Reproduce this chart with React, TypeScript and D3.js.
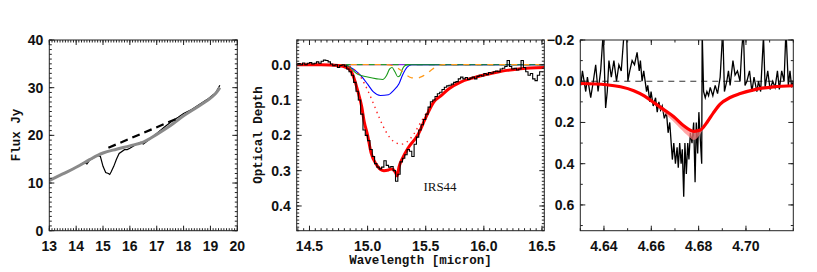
import * as d3 from 'd3';

// ---- panel 1: flux spectrum (micron, Jy) ----
const fluxWave = [13.0, 13.5, 14.0, 14.3, 14.4, 14.5, 14.8, 14.9, 15.0, 15.1, 15.2, 15.25, 15.3, 15.4, 15.5, 15.6, 15.8, 15.9, 16.0, 16.2, 16.4, 16.5, 16.6, 16.8, 17.0, 17.3, 17.6, 17.8, 18.0, 18.3, 18.6, 18.9, 19.1, 19.2, 19.3, 19.35];
const fluxData = [10.5, 11.9, 13.3, 14.3, 14.0, 14.8, 15.8, 15.6, 13.5, 12.2, 12.0, 11.8, 12.3, 13.5, 15.0, 16.2, 17.0, 17.0, 17.3, 18.0, 18.5, 18.2, 18.6, 19.5, 20.4, 21.8, 23.1, 23.8, 24.6, 25.4, 26.5, 27.6, 28.5, 29.0, 30.0, 30.5];
const contWave = [13.0, 13.5, 14.0, 14.5, 14.8, 15.0, 15.5, 16.0, 16.5, 17.0, 17.5, 18.0, 18.5, 19.0, 19.2, 19.35];
const contFlux = [10.5, 11.9, 13.3, 14.9, 15.8, 16.3, 17.1, 17.8, 18.6, 20.2, 22.0, 24.1, 25.9, 27.8, 28.8, 30.0];
const dashWave = [15.2, 17.75];
const dashFlux = [17.4, 23.5];

// ---- panel 2: optical depth, 15 micron band ----
const tauWave = [14.39, 14.41, 14.43, 14.45, 14.47, 14.49, 14.51, 14.53, 14.55, 14.57, 14.59, 14.61, 14.63, 14.65, 14.67, 14.69, 14.71, 14.73, 14.75, 14.77, 14.79, 14.81, 14.83, 14.85, 14.87, 14.89, 14.91, 14.93, 14.95, 14.97, 14.99, 15.01, 15.03, 15.05, 15.07, 15.09, 15.11, 15.13, 15.15, 15.17, 15.19, 15.21, 15.23, 15.25, 15.27, 15.29, 15.31, 15.33, 15.35, 15.37, 15.39, 15.41, 15.43, 15.45, 15.47, 15.49, 15.51, 15.53, 15.55, 15.57, 15.59, 15.61, 15.63, 15.65, 15.67, 15.69, 15.71, 15.73, 15.75, 15.77, 15.79, 15.81, 15.83, 15.85, 15.87, 15.89, 15.91, 15.93, 15.95, 15.97, 15.99, 16.01, 16.03, 16.05, 16.07, 16.09, 16.11, 16.13, 16.15, 16.17, 16.19, 16.21, 16.23, 16.25, 16.27, 16.29, 16.31, 16.33, 16.35, 16.37, 16.39, 16.41, 16.43, 16.45, 16.47, 16.49, 16.51];
const tauData = [0.0, -0.003, 0.0, -0.005, 0.0, -0.004, -0.006, -0.002, -0.004, -0.008, -0.004, -0.01, -0.013, -0.012, -0.008, -0.002, 0.003, 0.0, 0.008, 0.002, 0.0, 0.004, 0.012, 0.02, 0.03, 0.05, 0.075, 0.1, 0.14, 0.185, 0.2, 0.215, 0.24, 0.26, 0.28, 0.29, 0.295, 0.29, 0.272, 0.285, 0.29, 0.288, 0.3, 0.33, 0.31, 0.275, 0.265, 0.255, 0.24, 0.245, 0.26, 0.225, 0.205, 0.185, 0.17, 0.155, 0.14, 0.12, 0.105, 0.1, 0.09, 0.082, 0.078, 0.07, 0.064, 0.06, 0.058, 0.055, 0.05, 0.048, 0.04, 0.035, 0.04, 0.036, 0.042, 0.038, 0.035, 0.04, 0.033, 0.03, 0.032, 0.025, 0.028, 0.022, 0.024, 0.02, 0.018, 0.02, 0.012, 0.01, 0.005, -0.012, 0.005, 0.012, 0.01, 0.015, 0.012, -0.012, 0.008, 0.02, 0.03, 0.025, 0.04, 0.045, 0.03, 0.02, 0.02];
const fitWave = [14.39, 14.6, 14.75, 14.82, 14.86, 14.89, 14.92, 14.95, 14.97, 15.0, 15.03, 15.08, 15.14, 15.18, 15.21, 15.24, 15.255, 15.27, 15.3, 15.35, 15.43, 15.5, 15.57, 15.63, 15.7, 15.8, 15.9, 16.0, 16.1, 16.2, 16.3, 16.4, 16.52];
const fitTau = [0.0, 0.0, 0.002, 0.008, 0.02, 0.045, 0.08, 0.12, 0.16, 0.2, 0.25, 0.285, 0.3, 0.298, 0.295, 0.305, 0.315, 0.29, 0.265, 0.235, 0.2, 0.15, 0.105, 0.088, 0.068, 0.049, 0.038, 0.029, 0.022, 0.016, 0.012, 0.009, 0.008];
const dotWave = [14.8, 14.85, 14.9, 14.95, 15.0, 15.05, 15.1, 15.15, 15.2, 15.25, 15.29, 15.34, 15.4, 15.45, 15.5, 15.55, 15.6];
const dotTau = [0.0, 0.005, 0.018, 0.04, 0.072, 0.11, 0.15, 0.185, 0.21, 0.222, 0.225, 0.218, 0.195, 0.167, 0.14, 0.112, 0.09];
const blueWave = [14.39, 14.8, 14.85, 14.9, 14.94, 15.0, 15.05, 15.11, 15.18, 15.22, 15.27, 15.3, 15.34, 15.38, 16.52];
const blueTau = [0, 0, 0.007, 0.018, 0.03, 0.055, 0.077, 0.087, 0.085, 0.074, 0.054, 0.03, 0.007, 0, 0];
const greenWave = [14.39, 14.8, 14.84, 14.88, 14.92, 15.0, 15.08, 15.13, 15.16, 15.19, 15.21, 15.235, 15.26, 15.28, 15.3, 15.32, 15.35, 16.52];
const greenTau = [0, 0, 0.005, 0.018, 0.028, 0.035, 0.04, 0.042, 0.032, 0.012, 0.008, 0.02, 0.034, 0.03, 0.012, 0.003, 0, 0];
const orangeWave = [14.39, 15.15, 15.22, 15.28, 15.33, 15.38, 15.42, 15.47, 15.52, 15.56, 15.6, 15.65, 16.52];
const orangeTau = [0, 0, 0.003, 0.014, 0.028, 0.037, 0.038, 0.033, 0.022, 0.012, 0.004, 0, 0];

// ---- panel 3: optical depth, 4.67 micron band ----
const coWave = [4.6302, 4.6309, 4.6323, 4.633, 4.6344, 4.6355, 4.6365, 4.6375, 4.6386, 4.6397, 4.6407, 4.6414, 4.6421, 4.6431, 4.6442, 4.6453, 4.6463, 4.6473, 4.6484, 4.6495, 4.6501, 4.6509, 4.6519, 4.6529, 4.654, 4.6549, 4.6554, 4.6561, 4.6568, 4.658, 4.6585, 4.6594, 4.6599, 4.6608, 4.6618, 4.6625, 4.6632, 4.6639, 4.6646, 4.6655, 4.6664, 4.6671, 4.6678, 4.6684, 4.6689, 4.6695, 4.6702, 4.6709, 4.6714, 4.672, 4.6726, 4.6731, 4.6737, 4.6742, 4.6748, 4.6754, 4.6759, 4.6765, 4.6772, 4.6779, 4.6785, 4.679, 4.6796, 4.6801, 4.6807, 4.6813, 4.6815, 4.6821, 4.6828, 4.6835, 4.6842, 4.6849, 4.686, 4.687, 4.688, 4.6891, 4.6902, 4.6909, 4.6919, 4.6926, 4.6933, 4.6945, 4.6954, 4.6964, 4.6975, 4.6982, 4.6989, 4.6996, 4.7004, 4.7015, 4.7025, 4.7034, 4.7046, 4.7053, 4.7062, 4.7074, 4.7081, 4.7092, 4.7102, 4.7113, 4.7123, 4.7133, 4.7141, 4.7151, 4.7161, 4.7169, 4.7179, 4.7186, 4.7193, 4.72];
const coTau = [0.02, -0.05, 0.05, -0.02, 0.08, 0.0, -0.08, 0.05, -0.05, -0.24, 0.13, 0.05, -0.1, -0.02, -0.1, 0.0, -0.08, -0.05, -0.22, -0.26, 0.0, -0.05, -0.1, -0.08, -0.14, -0.05, -0.1, 0.0, -0.05, 0.05, 0.02, 0.1, 0.05, 0.12, 0.08, 0.15, 0.1, 0.14, 0.12, 0.18, 0.15, 0.25, 0.2, 0.3, 0.38, 0.3, 0.4, 0.32, 0.42, 0.3, 0.4, 0.33, 0.56, 0.3, 0.45, 0.3, 0.38, 0.25, 0.3, 0.2, 0.49, 0.2, 0.35, 0.15, 0.28, 0.4, -0.24, 0.05, 0.08, 0.05, 0.07, 0.03, 0.07, 0.02, 0.06, -0.02, -0.25, 0.05, 0.0, -0.05, 0.02, -0.1, -0.03, -0.05, 0.0, -0.15, -0.25, 0.02, 0.0, -0.05, 0.05, -0.02, 0.05, 0.0, 0.05, -0.22, 0.03, -0.05, 0.04, 0.0, 0.03, -0.05, 0.04, -0.05, 0.0, -0.25, 0.02, -0.05, 0.03, 0.0];
const coFitWave = [4.63, 4.641, 4.647, 4.6526, 4.657, 4.661, 4.665, 4.6695, 4.6737, 4.678, 4.6807, 4.6835, 4.6863, 4.6891, 4.6933, 4.6976, 4.7046, 4.7116, 4.72];
const coFitTau = [0.011, 0.017, 0.027, 0.046, 0.071, 0.103, 0.135, 0.172, 0.216, 0.243, 0.237, 0.2, 0.152, 0.111, 0.079, 0.06, 0.038, 0.027, 0.022];
const bandWave = [4.663, 4.667, 4.671, 4.675, 4.678, 4.681, 4.683];
const bandLow = [0.13, 0.17, 0.215, 0.26, 0.285, 0.25, 0.205];

const TICK_FONT = '"Liberation Sans", Arial, sans-serif';
const TITLE_FONT = '"Liberation Mono", "Courier New", monospace';

type Lin = d3.ScaleLinear<number, number>;

function steps(a: number, b: number, s: number) {
  const out: number[] = [];
  const n = Math.round((b - a) / s);
  for (let i = 0; i <= n; i++) out.push(+(a + i * s).toFixed(6));
  return out;
}

function Frame({ x, y, xMaj, xMin, yMaj, yMin, xFmt, yFmt }: {
  x: Lin; y: Lin; xMaj: number[]; xMin: number[]; yMaj: number[]; yMin: number[];
  xFmt: (v: number) => string; yFmt: (v: number) => string;
}) {
  const [x0, x1] = x.range();
  const [y0, y1] = y.range();
  const top = Math.min(y0, y1), bot = Math.max(y0, y1);
  const inX = (v: number) => v >= Math.min(...x.domain()) - 1e-9 && v <= Math.max(...x.domain()) + 1e-9;
  const inY = (v: number) => v >= Math.min(...y.domain()) - 1e-9 && v <= Math.max(...y.domain()) + 1e-9;
  const MJ = 5, MN = 2.5;
  return (
    <g stroke="#222" strokeWidth={1} fill="none">
      <rect x={x0} y={top} width={x1 - x0} height={bot - top} />
      {xMin.filter(inX).map((v, i) => (
        <g key={'xm' + i}>
          <line x1={x(v)} x2={x(v)} y1={bot} y2={bot - MN} />
          <line x1={x(v)} x2={x(v)} y1={top} y2={top + MN} />
        </g>
      ))}
      {xMaj.filter(inX).map((v, i) => (
        <g key={'xM' + i}>
          <line x1={x(v)} x2={x(v)} y1={bot} y2={bot - MJ} />
          <line x1={x(v)} x2={x(v)} y1={top} y2={top + MJ} />
          <text x={x(v)} y={bot + 20} stroke="none" fill="#111" fontFamily={TICK_FONT} fontSize={14} fontWeight="bold" textAnchor="middle">{xFmt(v)}</text>
        </g>
      ))}
      {yMin.filter(inY).map((v, i) => (
        <g key={'ym' + i}>
          <line x1={x0} x2={x0 + MN} y1={y(v)} y2={y(v)} />
          <line x1={x1} x2={x1 - MN} y1={y(v)} y2={y(v)} />
        </g>
      ))}
      {yMaj.filter(inY).map((v, i) => (
        <g key={'yM' + i}>
          <line x1={x0} x2={x0 + MJ} y1={y(v)} y2={y(v)} />
          <line x1={x1} x2={x1 - MJ} y1={y(v)} y2={y(v)} />
          <text x={x0 - 6} y={y(v) + 5} stroke="none" fill="#111" fontFamily={TICK_FONT} fontSize={14} fontWeight="bold" textAnchor="end">{yFmt(v)}</text>
        </g>
      ))}
    </g>
  );
}

export default function App() {
  // panel 1
  const x1 = d3.scaleLinear().domain([13, 20]).range([49.3, 237.3]);
  const y1 = d3.scaleLinear().domain([0, 40]).range([230.7, 40]);
  const l1 = d3.line<number>().x((_, i) => x1(fluxWave[i])).y((d) => y1(d));
  const lc = d3.line<number>().x((_, i) => x1(contWave[i])).y((d) => y1(d)).curve(d3.curveMonotoneX);
  const ld = d3.line<number>().x((_, i) => x1(dashWave[i])).y((d) => y1(d));

  // panel 2
  const x2 = d3.scaleLinear().domain([14.39, 16.52]).range([296.7, 544.3]);
  const y2 = d3.scaleLinear().domain([-0.07, 0.47]).range([40, 230.7]);
  const mk2 = (w: number[], curve: d3.CurveFactory = d3.curveMonotoneX) =>
    d3.line<number>().x((_, i) => x2(w[i])).y((d) => y2(d)).curve(curve);
  const zero2 = [0, 0];
  const zeroW = [14.39, 16.52];

  // panel 3
  const x3 = d3.scaleLinear().domain([4.63, 4.72]).range([580.3, 793.3]);
  const y3 = d3.scaleLinear().domain([-0.2, 0.725]).range([40, 230.7]);
  const l3 = d3.line<number>().x((_, i) => x3(coWave[i])).y((d) => y3(d));
  const l3fit = d3.line<number>().x((_, i) => x3(coFitWave[i])).y((d) => y3(d)).curve(d3.curveMonotoneX);
  const fitAt = (w: number) => {
    const i = d3.bisectLeft(coFitWave, w);
    const a = Math.max(1, Math.min(coFitWave.length - 1, i));
    const t = (w - coFitWave[a - 1]) / (coFitWave[a] - coFitWave[a - 1]);
    return coFitTau[a - 1] + t * (coFitTau[a] - coFitTau[a - 1]);
  };
  const band = d3.area<number>()
    .x((_, i) => x3(bandWave[i]))
    .y0((_, i) => y3(fitAt(bandWave[i])))
    .y1((d) => y3(d))
    .curve(d3.curveMonotoneX);

  return (
    <svg width={817} height={272} style={{ position: 'absolute', left: 0, top: 0, background: '#fff' }}>
      <defs>
        <clipPath id="c1"><rect x={49.3} y={40} width={188} height={190.7} /></clipPath>
        <clipPath id="c2"><rect x={296.7} y={40} width={247.6} height={190.7} /></clipPath>
        <clipPath id="c3"><rect x={580.3} y={40} width={213} height={190.7} /></clipPath>
      </defs>

      {/* panel 1 */}
      <g clipPath="url(#c1)" fill="none">
        <path d={l1(fluxData) ?? ''} stroke="#000" strokeWidth={1.2} />
        <path d={lc(contFlux) ?? ''} stroke="#8a8a8a" strokeWidth={3} />
        <path d={ld(dashFlux) ?? ''} stroke="#000" strokeWidth={2.2} strokeDasharray="8,5" />
      </g>
      <Frame x={x1} y={y1} xMaj={steps(13, 20, 1)} xMin={steps(13, 20, 0.1)} yMaj={steps(0, 40, 10)} yMin={steps(0, 40, 1)}
        xFmt={(v) => d3.format('d')(v)} yFmt={(v) => d3.format('d')(v)} />
      <text transform="translate(20,135) rotate(-90)" textAnchor="middle" fontFamily={TITLE_FONT} fontWeight="bold" fontSize={12.5} fill="#111">Flux Jy</text>

      {/* panel 2 */}
      <g clipPath="url(#c2)" fill="none">
        <path d={mk2(zeroW, d3.curveLinear)(zero2) ?? ''} stroke="#8a2be2" strokeWidth={1.2} />
        <path d={mk2(zeroW, d3.curveLinear)(zero2) ?? ''} stroke="#2a9d2a" strokeWidth={1.2} strokeDasharray="6,6" />
        <path d={mk2(blueWave)(blueTau) ?? ''} stroke="#0000ff" strokeWidth={1.1} />
        <path d={mk2(greenWave)(greenTau) ?? ''} stroke="#1a9a1a" strokeWidth={1.1} />
        <path d={mk2(orangeWave)(orangeTau) ?? ''} stroke="#ff9a1a" strokeWidth={1.3} strokeDasharray="6,6" strokeDashoffset={6} />
        <path d={mk2(fitWave)(fitTau) ?? ''} stroke="#ff0000" strokeWidth={3} />
        <path d={mk2(dotWave)(dotTau) ?? ''} stroke="#ff2020" strokeWidth={1.4} strokeDasharray="1.4,4" />
        <path d={mk2(tauWave, d3.curveStep)(tauData) ?? ''} stroke="#000" strokeWidth={1.1} />
      </g>
      <Frame x={x2} y={y2} xMaj={steps(14.5, 16.5, 0.5)} xMin={steps(14.4, 16.5, 0.05)} yMaj={steps(0, 0.4, 0.1)} yMin={steps(-0.07, 0.47, 0.01)}
        xFmt={(v) => d3.format('.1f')(v)} yFmt={(v) => d3.format('.1f')(v)} />
      <text x={440} y={191} textAnchor="middle" fontFamily='"Liberation Serif", "Times New Roman", serif' fontSize={13} fill="#111">IRS44</text>
      <text transform="translate(262,135) rotate(-90)" textAnchor="middle" fontFamily={TITLE_FONT} fontWeight="bold" fontSize={12.5} fill="#111">Optical Depth</text>
      <text x={420.5} y={264} textAnchor="middle" fontFamily={TITLE_FONT} fontWeight="bold" fontSize={12.5} fill="#111">Wavelength [micron]</text>

      {/* panel 3 */}
      <g clipPath="url(#c3)" fill="none">
        <line x1={x3(4.63)} x2={x3(4.72)} y1={y3(0)} y2={y3(0)} stroke="#333" strokeWidth={1.2} strokeDasharray="6,5" />
        <path d={l3(coTau) ?? ''} stroke="#000" strokeWidth={1.3} />
        <path d={band(bandLow) ?? ''} fill="#ff8080" fillOpacity={0.7} stroke="none" />
        <path d={l3fit(coFitTau) ?? ''} stroke="#ff0000" strokeWidth={3.2} />
      </g>
      <Frame x={x3} y={y3} xMaj={steps(4.64, 4.70, 0.02)} xMin={steps(4.63, 4.72, 0.01)} yMaj={steps(-0.2, 0.6, 0.2)} yMin={steps(-0.2, 0.7, 0.1)}
        xFmt={(v) => d3.format('.2f')(v)} yFmt={(v) => d3.format('.1f')(Math.abs(v) < 1e-9 ? 0 : v).replace('-', '\u2212')} />
    </svg>
  );
}
